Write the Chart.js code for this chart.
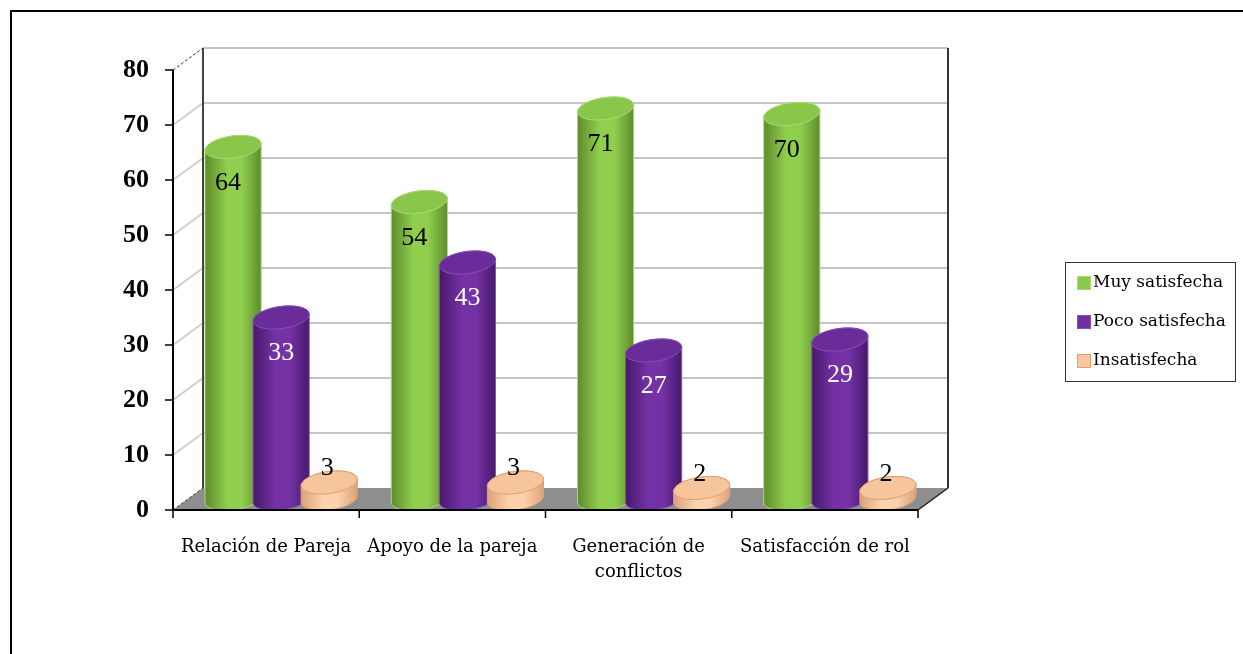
<!DOCTYPE html>
<html>
<head>
<meta charset="utf-8">
<script src="https://cdn.jsdelivr.net/npm/chart.js@4.4.1/dist/chart.umd.min.js"></script>
<style>
  body { margin: 0; background: #fff; }
  canvas { display: block; }
</style>
</head>
<body>
<canvas id="satisChart" width="1243" height="654"></canvas>
<script>
// Data
const categories = ["Relación de Pareja", "Apoyo de la pareja", ["Generación de", "conflictos"], "Satisfacción de rol"];
const seriesNames = ["Muy satisfecha", "Poco satisfecha", "Insatisfecha"];
const muySatisfecha = [64, 54, 71, 70];
const pocoSatisfecha = [33, 43, 27, 29];
const insatisfecha = [3, 3, 2, 2];
const yMax = 80;
const yStep = 10;

// 3d look: depth offset of the back wall
const DX = 30, DY = -22;

const looks = [
	{ fill: "#8cc84b", dark: "#5e8a2c", light: "#90cf4e", top: "#8ac64a", edge: "#a8dc6e", label: "#000", shift: -5 },
	{ fill: "#7030a0", dark: "#46186a", light: "#7432a6", top: "#6a2c98", edge: "#8a4cbc", label: "#fff", shift: 0 },
	{ fill: "#fac89f", dark: "#dba27a", light: "#fcd2ae", top: "#f6c59c", edge: "#e29e6e", label: "#000", shift: -2 }
];

function line(ctx, x1, y1, x2, y2, color, width, dash) {
	ctx.save();
	ctx.strokeStyle = color;
	ctx.lineWidth = width;
	ctx.setLineDash(dash || []);
	ctx.beginPath();
	ctx.moveTo(x1, y1);
	ctx.lineTo(x2, y2);
	ctx.stroke();
	ctx.restore();
}

function cylinder(ctx, cx, top, base, w, look) {
	const rx = w / 2, ry = 11, rot = -0.14;
	const grad = ctx.createLinearGradient(cx - rx, 0, cx + rx, 0);
	grad.addColorStop(0, look.dark);
	grad.addColorStop(0.4, look.light);
	grad.addColorStop(0.65, look.light);
	grad.addColorStop(1, look.dark);
	ctx.save();
	ctx.beginPath();
	ctx.ellipse(cx, base, rx, ry, rot, 0, Math.PI);
	ctx.ellipse(cx, top, rx, ry, rot, Math.PI, Math.PI * 2);
	ctx.closePath();
	ctx.fillStyle = grad;
	ctx.fill();
	ctx.strokeStyle = look.edge;
	ctx.lineWidth = 1;
	ctx.stroke();
	ctx.beginPath();
	ctx.ellipse(cx, top, rx, ry, rot, 0, Math.PI * 2);
	ctx.fillStyle = look.top;
	ctx.fill();
	ctx.stroke();
	ctx.restore();
}

const chart3d = {
	id: "chart3d",
	beforeDraw(chart) {
		const ctx = chart.ctx;
		// outer frame, only top and left are in view
		ctx.save();
		ctx.strokeStyle = "#000";
		ctx.lineWidth = 2;
		ctx.beginPath();
		ctx.moveTo(11, 654);
		ctx.lineTo(11, 11);
		ctx.lineTo(1243, 11);
		ctx.stroke();
		ctx.restore();
	},
	beforeDatasetsDraw(chart) {
		const ctx = chart.ctx;
		const area = chart.chartArea;
		const y = chart.scales.y;
		const L = area.left, R = area.right, B = area.bottom;

		// floor
		ctx.save();
		ctx.fillStyle = "#8e8e8e";
		ctx.beginPath();
		ctx.moveTo(L, B);
		ctx.lineTo(L + DX, B + DY);
		ctx.lineTo(R + DX, B + DY);
		ctx.lineTo(R, B);
		ctx.closePath();
		ctx.fill();
		ctx.restore();

		// back wall grid and side wall diagonals
		y.ticks.forEach(t => {
			const py = y.getPixelForValue(t.value);
			if (t.value > 0) {
				line(ctx, L + DX, py + DY, R + DX, py + DY, "#c4c4c4", 2);
			}
			if (t.value === 0 || t.value === yMax) {
				line(ctx, L, py, L + DX, py + DY, "#333", 1, [3, 2]);
			} else {
				line(ctx, L, py, L + DX, py + DY, "#cfcfcf", 2);
			}
		});
		const topB = y.getPixelForValue(yMax) + DY;
		line(ctx, L + DX, topB, L + DX, B + DY, "#444", 2);
		line(ctx, R + DX, topB, R + DX, B + DY, "#333", 2);
		line(ctx, R, B, R + DX, B + DY, "#222", 1.5);

		// cylinders, drawn back to front by series
		chart.data.datasets.forEach((ds, i) => {
			const meta = chart.getDatasetMeta(i);
			meta.data.forEach(bar => {
				cylinder(ctx, bar.x + DX / 2, bar.y + DY / 2, bar.base + DY / 2, bar.width, looks[i]);
			});
		});

		// value labels
		ctx.save();
		ctx.font = "26px 'Liberation Serif'";
		ctx.textAlign = "center";
		ctx.textBaseline = "middle";
		chart.data.datasets.forEach((ds, i) => {
			const meta = chart.getDatasetMeta(i);
			meta.data.forEach((bar, j) => {
				const v = ds.data[j];
				const cx = bar.x + DX / 2 + looks[i].shift;
				const top = bar.y + DY / 2;
				if (v < 10) {
					ctx.fillStyle = "#000";
					ctx.fillText(v, cx, top - 14);
				} else {
					ctx.fillStyle = looks[i].label;
					ctx.fillText(v, cx, top + 36);
				}
			});
		});
		ctx.restore();

		// front axes with tick marks
		line(ctx, L, y.getPixelForValue(yMax), L, B, "#000", 2);
		y.ticks.forEach(t => {
			const py = y.getPixelForValue(t.value);
			line(ctx, L - 8, py, L, py, "#000", 1.5);
		});
		line(ctx, L, B, R, B, "#000", 2);
		const step = (R - L) / categories.length;
		for (let k = 0; k <= categories.length; k++) {
			line(ctx, L + k * step, B, L + k * step, B + 8, "#000", 1.5);
		}
		return false;
	},
	afterDraw(chart) {
		// legend box on the right
		const ctx = chart.ctx;
		ctx.save();
		ctx.fillStyle = "#fff";
		ctx.fillRect(1065, 262, 170, 119);
		ctx.strokeStyle = "#333";
		ctx.lineWidth = 1;
		ctx.strokeRect(1065.5, 262.5, 170, 119);
		ctx.font = "17px 'DejaVu Serif'";
		ctx.textBaseline = "middle";
		ctx.textAlign = "left";
		chart.data.datasets.forEach((ds, i) => {
			const cy = 283 + i * 39;
			ctx.fillStyle = ds.backgroundColor;
			ctx.fillRect(1077, cy - 7, 14, 14);
			ctx.strokeStyle = looks[i].edge;
			ctx.strokeRect(1077.5, cy - 6.5, 13, 13);
			ctx.fillStyle = "#000";
			ctx.fillText(ds.label, 1093, cy);
		});
		ctx.restore();
	}
};

const satisChart = new Chart(document.getElementById("satisChart"), {
	type: "bar",
	data: {
		labels: categories,
		datasets: [
			{ label: seriesNames[0], data: muySatisfecha, backgroundColor: looks[0].fill },
			{ label: seriesNames[1], data: pocoSatisfecha, backgroundColor: looks[1].fill },
			{ label: seriesNames[2], data: insatisfecha, backgroundColor: looks[2].fill }
		]
	},
	options: {
		responsive: false,
		animation: false,
		categoryPercentage: 0.774,
		barPercentage: 1.18,
		layout: { padding: { top: 70, right: 325, left: 0, bottom: 0 } },
		plugins: {
			legend: { display: false },
			tooltip: { enabled: false }
		},
		scales: {
			x: {
				grid: { display: false },
				border: { display: false },
				ticks: {
					color: "#000",
					padding: 17,
					maxRotation: 0,
					autoSkip: false,
					font: { family: "'DejaVu Serif'", size: 18, lineHeight: 1.4 }
				},
				afterFit(scale) { scale.height = 144; }
			},
			y: {
				min: 0,
				max: yMax,
				grid: { display: false },
				border: { display: false },
				ticks: {
					stepSize: yStep,
					color: "#000",
					padding: 16,
					font: { family: "'Liberation Serif'", size: 26, weight: "bold" }
				},
				afterFit(scale) { scale.width = 173; }
			}
		}
	},
	plugins: [chart3d]
});
</script>
</body>
</html>
